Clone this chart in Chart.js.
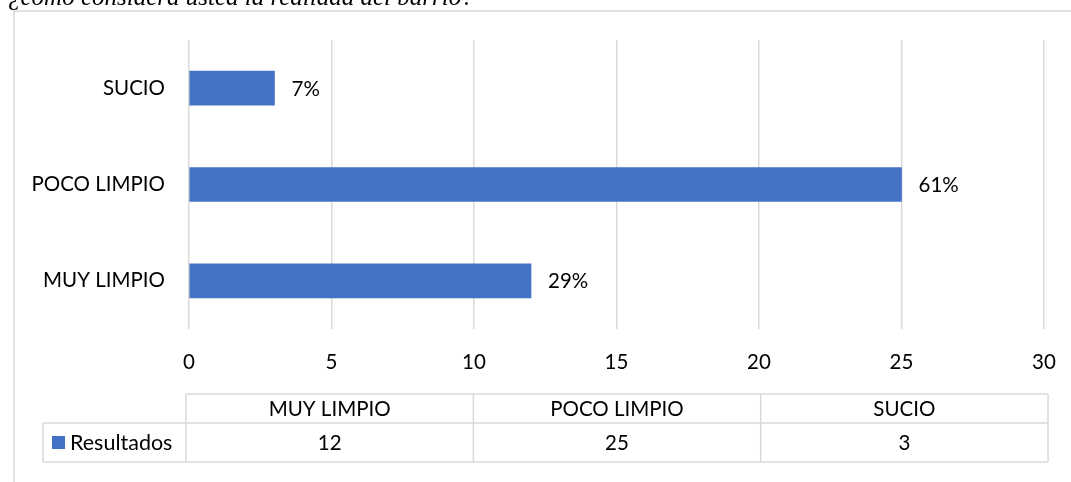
<!DOCTYPE html>
<html>
<head>
<meta charset="utf-8">
<script src="https://cdn.jsdelivr.net/npm/chart.js@4/dist/chart.umd.min.js"></script>
<style>
  html, body { margin: 0; padding: 0; background: #fff; overflow: hidden; }
  #wrap { position: relative; width: 1071px; height: 482px; }
  #title {
    position: absolute; left: 8px; top: -15px; white-space: nowrap;
    font-family: "Liberation Serif", "Times New Roman", serif;
    font-style: italic; font-size: 25px; line-height: 24px; color: #000;
  }
  canvas { position: absolute; left: 0; top: 0; }
</style>
</head>
<body>
<div id="wrap">
  <canvas id="chart" width="1071" height="482"></canvas>
  <div id="title">¿cómo considera usted la realidad del barrio?</div>
</div>
<script>
// data
var categories = ['MUY LIMPIO', 'POCO LIMPIO', 'SUCIO'];
var values = [12, 25, 3];
var pctLabels = ['29%', '61%', '7%'];
var seriesName = 'Resultados';
var xTicks = { min: 0, max: 30, step: 5 };

var FONT = 'Lato, "Open Sans", sans-serif';
var FSIZE = 20.5;
var GRID = '#d9d9d9';
var BLUE = '#4472C4';

// chart frame (top + left edges only are visible)
var framePlugin = {
    id: 'frame',
    beforeDraw: function (chart) {
        var ctx = chart.ctx;
        ctx.save();
        ctx.strokeStyle = GRID;
        ctx.lineWidth = 1.5;
        ctx.beginPath();
        ctx.moveTo(14, chart.height);
        ctx.lineTo(14, 11);
        ctx.lineTo(chart.width, 11);
        ctx.stroke();
        ctx.restore();
    }
};

// percentage labels to the right of each bar
var barLabelPlugin = {
    id: 'barLabels',
    afterDatasetsDraw: function (chart) {
        var ctx = chart.ctx;
        var meta = chart.getDatasetMeta(0);
        ctx.save();
        ctx.font = FSIZE + 'px ' + FONT;
        ctx.fillStyle = '#000';
        ctx.textAlign = 'left';
        ctx.textBaseline = 'middle';
        meta.data.forEach(function (bar, i) {
            ctx.fillText(pctLabels[i], bar.x + 17, bar.y + 1);
        });
        ctx.restore();
    }
};

// data table under the axis
var dataTablePlugin = {
    id: 'dataTable',
    afterDraw: function (chart) {
        var ctx = chart.ctx;
        var area = chart.chartArea;
        var left = area.left - 3, right = area.right + 4;
        var legendLeft = 43;
        var top = 394, mid = 423, bottom = 462;
        var colW = (right - left) / categories.length;

        ctx.save();
        ctx.strokeStyle = GRID;
        ctx.lineWidth = 1.5;
        ctx.beginPath();
        ctx.moveTo(left, top); ctx.lineTo(right, top);
        ctx.moveTo(legendLeft, mid); ctx.lineTo(right, mid);
        ctx.moveTo(legendLeft, bottom); ctx.lineTo(right, bottom);
        ctx.moveTo(legendLeft, mid); ctx.lineTo(legendLeft, bottom);
        for (var c = 0; c <= categories.length; c++) {
            var x = left + c * colW;
            ctx.moveTo(x, top); ctx.lineTo(x, bottom);
        }
        ctx.stroke();

        ctx.font = FSIZE + 'px ' + FONT;
        ctx.fillStyle = '#000';
        ctx.textAlign = 'center';
        ctx.textBaseline = 'middle';
        categories.forEach(function (cat, i) {
            var cx = left + colW * (i + 0.5);
            ctx.fillText(cat, cx, (top + mid) / 2 + 1);
            ctx.fillText(String(values[i]), cx, (mid + bottom) / 2 + 1);
        });

        // legend key + series name
        ctx.fillStyle = BLUE;
        ctx.fillRect(52, 436, 13, 13);
        ctx.fillStyle = '#000';
        ctx.textAlign = 'left';
        ctx.font = '21.5px ' + FONT;
        ctx.fillText(seriesName, 70, (mid + bottom) / 2 + 1);
        ctx.restore();
    }
};

new Chart(document.getElementById('chart'), {
    type: 'bar',
    data: {
        labels: categories,
        datasets: [{
            label: seriesName,
            data: values,
            backgroundColor: BLUE,
            barThickness: 34
        }]
    },
    options: {
        indexAxis: 'y',
        responsive: false,
        animation: false,
        layout: { padding: { top: 40, right: 27, left: 0, bottom: 0 } },
        plugins: { legend: { display: false }, tooltip: { enabled: false } },
        scales: {
            x: {
                min: xTicks.min,
                max: xTicks.max,
                ticks: { stepSize: xTicks.step, color: '#000', font: { family: FONT, size: FSIZE }, padding: 21 },
                grid: { color: GRID, lineWidth: 1.5, drawTicks: false },
                border: { display: false },
                afterFit: function (scale) {
                    scale.height = 153;
                    scale.paddingLeft = 0;
                    scale.paddingRight = 0;
                }
            },
            y: {
                reverse: true,
                ticks: { color: '#000', font: { family: FONT, size: FSIZE }, padding: 24 },
                grid: { display: false, drawTicks: false },
                border: { display: false },
                afterFit: function (scale) { scale.width = 189; }
            }
        }
    },
    plugins: [framePlugin, barLabelPlugin, dataTablePlugin]
});
</script>
</body>
</html>
